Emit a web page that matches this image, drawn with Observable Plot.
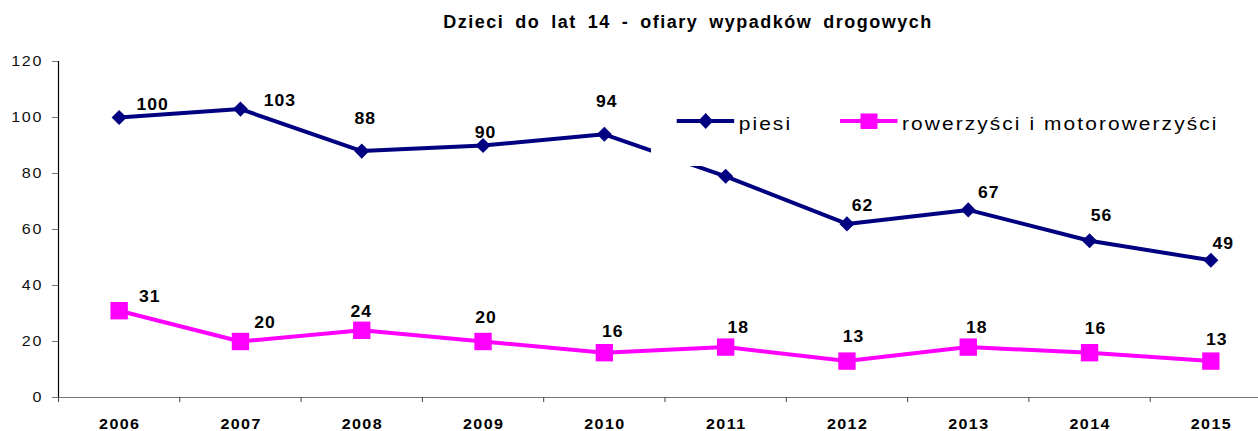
<!DOCTYPE html>
<html><head><meta charset="utf-8">
<script src="https://cdn.jsdelivr.net/npm/d3@7"></script>
<script src="https://cdn.jsdelivr.net/npm/@observablehq/plot@0.6"></script>
<style>
body{margin:0;background:#fff;}
#wrap{position:relative;width:1258px;height:431px;overflow:hidden;font-family:"Liberation Sans",Arial,sans-serif;}
#wrap svg.chart{position:absolute;left:0;top:0;display:block;}
#title{position:absolute;top:12px;left:688px;transform:translateX(-50%);white-space:nowrap;font-weight:bold;font-size:18px;letter-spacing:1.5px;word-spacing:4.5px;line-height:20px;color:#000;}
#legend{position:absolute;left:651px;top:97px;}
.chart g[aria-description="ylab"] text{letter-spacing:1.5px;}
.chart g[aria-description="xlab"] text{letter-spacing:1.2px;}
.chart g[aria-description="vlab"] text{letter-spacing:0.9px;}
</style></head><body>
<div id="wrap">
<div id="title">Dzieci do lat 14 - ofiary wypadków drogowych</div>
</div>
<script>
// ---- data ----
const years = [2006, 2007, 2008, 2009, 2010, 2011, 2012, 2013, 2014, 2015];
const piesi = [100, 103, 88, 90, 94, 79, 62, 67, 56, 49];
const rowerzysci = [31, 20, 24, 20, 16, 18, 13, 18, 16, 13];
const seriesNames = ["piesi", "rowerzyści i motorowerzyści"];
const yTicks = [0, 20, 40, 60, 80, 100, 120];

// ---- layout (label offsets in px: [dx, baseline dy]) ----
const piesiLabelOffsets = [[33,-7],[39,-3],[3,-27],[2,-7],[2,-27],[3,-27],[15,-13],[20,-12],[11.5,-19],[12,-11]];
const rowLabelOffsets = [[30,-8],[24,-13],[-1,-13],[2.5,-18],[8,-15],[12,-14],[6,-19],[8,-14],[5.5,-18],[5.5,-16]];
// horizontal stretch of the original (Excel) lettering
const stretch = {ylab: 1.15, xlab: 1.15, vlab: 1.1};

const navy = "#000080", magenta = "#FF00FF";
const pRows = years.map((y, i) => ({year: y, value: piesi[i]}));
const rRows = years.map((y, i) => ({year: y, value: rowerzysci[i]}));
const bounds = years.map(y => y - 0.5).concat([years[years.length - 1] + 0.5]);

const labelMarks = (rows, offs) => rows.map((d, i) => Plot.text([d], {
  x: "year", y: "value", text: r => String(r.value),
  dx: offs[i][0] + 0.5, dy: offs[i][1] - 5.5,
  fontSize: 16, fontWeight: "bold", fill: "#000", ariaDescription: "vlab"
}));

const chart = Plot.plot({
  width: 1258, height: 431,
  marginLeft: 58, marginRight: 0, marginTop: 61, marginBottom: 34,
  style: {fontFamily: '"Liberation Sans", Arial, sans-serif', background: "transparent", color: "#111"},
  x: {domain: [bounds[0], bounds[bounds.length - 1]], range: [58, 58 + 121.3 * 10], axis: null},
  y: {domain: [0, 120], axis: null},
  marks: [
    Plot.ruleY([0], {stroke: "#777", strokeWidth: 1.2}),
    Plot.ruleX([bounds[0]], {y1: 0, y2: 120, stroke: "#000", strokeWidth: 1.2}),
    Plot.axisY({ticks: yTicks, tickSize: 6, tickFormat: () => "", label: null, stroke: "#777"}),
    Plot.axisX({ticks: bounds, tickSize: 5, tickFormat: () => "", label: null, stroke: "#444"}),
    Plot.text(yTicks, {y: d => d, frameAnchor: "left", textAnchor: "end", dx: -15.3, fontSize: 14, fill: "#111", text: d => String(d), ariaDescription: "ylab"}),
    Plot.text(years, {x: d => d, frameAnchor: "bottom", lineAnchor: "top", dy: 22, dx: 0.6, fontSize: 14, fontWeight: "bold", fill: "#000", text: d => String(d), ariaDescription: "xlab"}),
    Plot.line(rRows, {x: "year", y: "value", stroke: magenta, strokeWidth: 4}),
    Plot.dot(rRows, {x: "year", y: "value", symbol: "square", r: 9.8, fill: magenta, stroke: null}),
    Plot.line(pRows, {x: "year", y: "value", stroke: navy, strokeWidth: 4}),
    Plot.dot(pRows, {x: "year", y: "value", symbol: "diamond2", r: 6.8, fill: navy, stroke: null}),
    ...labelMarks(pRows, piesiLabelOffsets),
    ...labelMarks(rRows, rowLabelOffsets)
  ]
});
chart.classList.add("chart");
Object.entries(stretch).forEach(([key, sx]) => {
  d3.select(chart).selectAll(`g[aria-description="${key}"] text`).each(function () {
    const el = d3.select(this);
    const t = el.attr("transform") || "";
    const x = +el.attr("x") || 0, y = +el.attr("y") || 0;
    el.attr("transform", `${t} translate(${x},${y}) scale(${sx},1) translate(${-x},${-y})`);
  });
});
document.getElementById("wrap").appendChild(chart);

// ---- legend (overlay box, as in the original) ----
const leg = d3.select("#wrap").append("svg").attr("id", "legend").attr("width", 590).attr("height", 69);
leg.append("rect").attr("width", 590).attr("height", 69).attr("fill", "#fff");
const items = [
  {name: seriesNames[0], color: navy, x0: 25.7, symbol: "diamond"},
  {name: seriesNames[1], color: magenta, x0: 189, symbol: "square"}
];
items.forEach(it => {
  const g = leg.append("g");
  g.append("line").attr("x1", it.x0).attr("x2", it.x0 + 57.5).attr("y1", 24).attr("y2", 24)
    .attr("stroke", it.color).attr("stroke-width", 4);
  const cx = it.x0 + 29;
  if (it.symbol === "diamond") {
    g.append("path").attr("d", `M${cx},16L${cx + 7.5},24L${cx},32L${cx - 7.5},24Z`).attr("fill", it.color);
  } else {
    g.append("rect").attr("x", cx - 8.5).attr("y", 16.5).attr("width", 17).attr("height", 15.5).attr("fill", it.color);
  }
  const tx = it.x0 + 62;
  g.append("text").attr("x", 0).attr("y", 0)
    .attr("transform", `translate(${tx},33) scale(1.1,1)`).text(it.name)
    .style("font-family", '"Liberation Sans", Arial, sans-serif').style("font-size", "19px")
    .style("letter-spacing", "1.9px").attr("fill", "#000");
});
</script>
</body></html>
